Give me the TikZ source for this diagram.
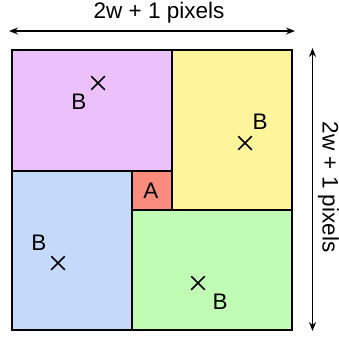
\documentclass[tikz,border=0pt]{standalone}
\usepackage{fontspec}
\setmainfont{Liberation Sans}
\usetikzlibrary{shapes.misc, arrows.meta}
\definecolor{regPurple}{HTML}{EBC0FB}
\definecolor{regYellow}{HTML}{FEF49B}
\definecolor{regBlue}{HTML}{C5DAFB}
\definecolor{regGreen}{HTML}{C0FCB4}
\definecolor{regRed}{HTML}{FA8C7E}
\tikzstyle{dimArrow} = [line width=1.3pt,{Stealth[length=9pt,width=7pt,inset=3pt]}-{Stealth[length=9pt,width=7pt,inset=3pt]}]
\tikzstyle{region} = [draw=black, line width=2pt]
\tikzstyle{crossMark} = [cross out, draw=black, line width=1.5pt, minimum size=12pt, inner sep=0pt]
\tikzstyle{lbl} = [font=\fontsize{22.5}{26}\selectfont, inner sep=0pt]

\begin{document}
\begin{tikzpicture}[x=1pt,y=-1pt]
		\useasboundingbox (0,0) rectangle (339,337);
		% regions around the pixel
		\filldraw [region, fill=regPurple] (11.5,50) rectangle (172,171);
		\filldraw [region, fill=regYellow] (172,50) rectangle (292,210);
		\filldraw [region, fill=regBlue] (11.5,171) rectangle (132,329.5);
		\filldraw [region, fill=regGreen] (132,210) rectangle (292,329.5);
		\filldraw [region, fill=regRed] (132,171) rectangle (172,210);
		\draw [region] (11.5,50) rectangle (292,329.5);
		\node (a) [lbl] at (151,190.5) {A};
		% sample points
		\node (xPurple) [crossMark] at (98,83) {};
		\node (bPurple) [lbl] at (79,102) {B};
		\node (xYellow) [crossMark] at (245,143) {};
		\node (bYellow) [lbl] at (260,122) {B};
		\node (xBlue) [crossMark] at (58,263) {};
		\node (bBlue) [lbl] at (39,243) {B};
		\node (xGreen) [crossMark] at (198,283) {};
		\node (bGreen) [lbl] at (220,302) {B};
		% size arrows
		\coordinate (topL) at (9,31);
		\coordinate (topR) at (295,31);
		\coordinate (rightT) at (312.5,48);
		\coordinate (rightB) at (312.5,331);
		\draw [dimArrow] (topL) -- (topR);
		\draw [dimArrow] (rightT) -- (rightB);
		\node (width) [lbl] at (159,13) {2w + 1 pixels};
		\node (height) [lbl, rotate=-90] at (328.5,187) {2w + 1 pixels};
	\end{tikzpicture}
\end{document}
